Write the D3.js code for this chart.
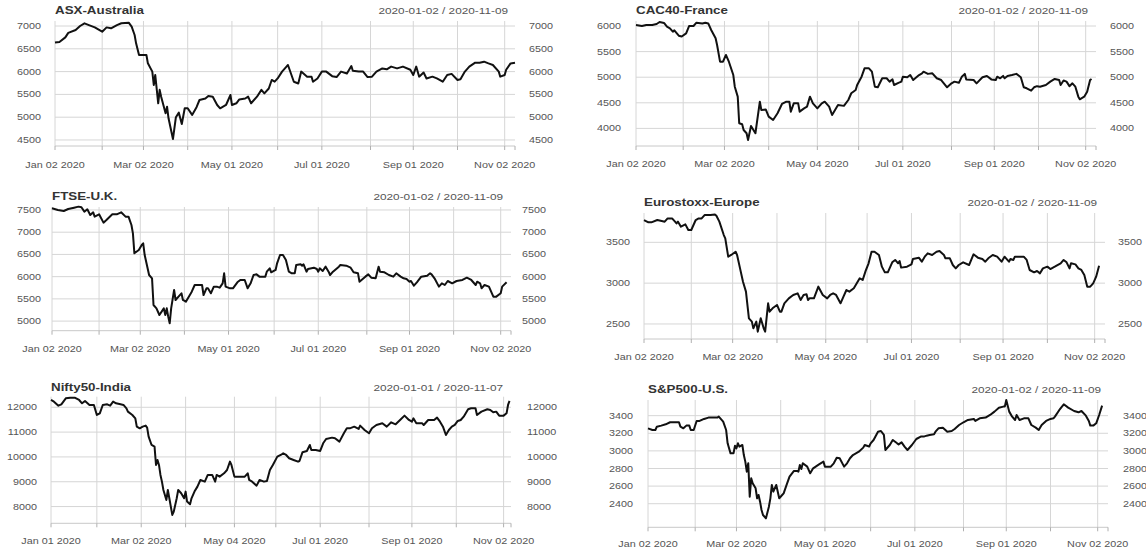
<!DOCTYPE html>
<html><head><meta charset="utf-8">
<script src="https://cdn.jsdelivr.net/npm/d3@7"></script>
<style>body{margin:0;background:#fff}svg{display:block}</style>
</head><body><svg id="c" width="1146" height="551"></svg>
<script>
// ---------------- DATA ----------------
const asx = [["01-02",6640],["01-05",6650],["01-09",6750],["01-11",6850],["01-16",6912],["01-19",7000],["01-22",7059],["01-25",7020],["01-29",6970],["02-03",6875],["02-06",6970],["02-09",6950],["02-13",7020],["02-16",7060],["02-21",7073],["02-23",6985],["02-25",6803],["02-26",6620],["02-28",6364],["03-04",6364],["03-05",6182],["03-08",6000],["03-09",5706],["03-10",5925],["03-12",5305],["03-13",5600],["03-14",5450],["03-17",5085],["03-18",5230],["03-19",4976],["03-22",4520],["03-24",5000],["03-26",5100],["03-28",4851],["03-30",5195],["04-01",5195],["04-04",5050],["04-07",5220],["04-09",5377],["04-13",5410],["04-15",5465],["04-18",5450],["04-21",5268],["04-23",5195],["04-27",5268],["04-30",5487],["05-01",5268],["05-04",5305],["05-06",5390],["05-10",5410],["05-12",5450],["05-14",5305],["05-18",5450],["05-21",5600],["05-23",5523],["05-26",5630],["05-28",5816],["05-30",5780],["06-01",5850],["06-04",6000],["06-07",6110],["06-08",6145],["06-12",5778],["06-15",5740],["06-17",6000],["06-21",5889],["06-24",5889],["06-25",5778],["06-28",5850],["07-01",6000],["07-04",6000],["07-08",5900],["07-11",5880],["07-14",6000],["07-18",5960],["07-21",6123],["07-22",6020],["07-26",6000],["07-29",6000],["08-01",5880],["08-04",5889],["08-07",6000],["08-11",6070],["08-14",6050],["08-17",6110],["08-21",6070],["08-25",6110],["08-30",6040],["09-01",5925],["09-03",6110],["09-05",5889],["09-08",5980],["09-10",5850],["09-14",5889],["09-17",5850],["09-21",5778],["09-24",5925],["09-27",5950],["10-01",5816],["10-03",5830],["10-06",6000],["10-09",6110],["10-13",6196],["10-16",6196],["10-19",6218],["10-22",6180],["10-25",6145],["10-29",6000],["10-30",5889],["11-02",5925],["11-03",6040],["11-06",6180],["11-09",6196]];

const cac = [["01-02",6020],["01-06",6000],["01-09",6020],["01-13",6020],["01-16",6040],["01-18",6078],["01-21",6060],["01-23",5987],["01-25",5955],["01-27",5889],["01-28",5915],["01-31",5811],["02-02",5795],["02-05",5857],["02-07",6000],["02-10",6000],["02-12",6065],["02-16",6050],["02-18",6065],["02-20",6050],["02-22",5922],["02-25",5760],["02-26",5629],["02-28",5303],["03-01",5303],["03-03",5434],["03-05",5303],["03-08",5043],["03-09",4815],["03-11",4620],["03-12",4100],["03-14",4080],["03-15",3969],["03-17",3905],["03-18",3774],["03-20",4047],["03-23",3905],["03-26",4522],["03-27",4360],["03-30",4370],["04-01",4229],["04-04",4164],["04-07",4295],["04-10",4477],["04-13",4522],["04-15",4522],["04-16",4327],["04-18",4490],["04-21",4490],["04-22",4327],["04-25",4392],["04-27",4425],["04-29",4620],["05-01",4490],["05-04",4392],["05-07",4490],["05-09",4522],["05-12",4425],["05-14",4262],["05-18",4457],["05-22",4440],["05-25",4555],["05-27",4686],["05-30",4750],["05-31",4848],["06-03",5010],["06-05",5174],["06-08",5174],["06-10",5108],["06-12",4815],["06-14",4805],["06-17",4979],["06-20",4979],["06-22",4913],["06-24",4957],["06-25",4848],["06-28",4890],["06-30",4913],["07-01",5010],["07-04",5000],["07-06",5043],["07-08",4945],["07-12",5043],["07-14",5075],["07-15",5108],["07-18",5065],["07-21",5075],["07-24",4979],["07-27",4945],["07-31",4803],["08-03",4880],["08-05",4913],["08-08",4890],["08-10",5010],["08-12",5065],["08-13",4957],["08-18",4945],["08-20",4880],["08-24",5000],["08-27",5025],["08-30",4957],["09-02",4945],["09-03",5010],["09-05",4979],["09-07",5025],["09-08",4979],["09-10",5025],["09-13",5043],["09-16",5065],["09-19",5000],["09-21",4803],["09-23",4783],["09-26",4737],["09-28",4803],["09-30",4825],["10-02",4815],["10-06",4848],["10-09",4913],["10-12",4966],["10-15",4945],["10-16",4848],["10-18",4935],["10-20",4913],["10-22",4825],["10-24",4880],["10-26",4815],["10-28",4620],["10-29",4568],["11-01",4620],["11-03",4717],["11-05",4945],["11-06",4966]];

const ftse = [["01-02",7537],["01-06",7500],["01-10",7477],["01-13",7522],["01-17",7552],["01-20",7575],["01-22",7560],["01-24",7462],["01-26",7515],["01-28",7387],["01-30",7447],["01-31",7350],["02-03",7402],["02-06",7215],["02-08",7275],["02-12",7402],["02-15",7402],["02-18",7447],["02-21",7350],["02-23",7350],["02-25",7162],["02-26",6975],["02-27",6525],["03-01",6600],["03-03",6712],["03-04",6750],["03-05",6487],["03-08",6037],["03-10",5962],["03-11",5362],["03-13",5287],["03-15",5137],["03-18",5287],["03-19",5137],["03-20",5287],["03-21",5100],["03-22",4950],["03-23",5287],["03-25",5700],["03-26",5475],["03-28",5550],["03-30",5625],["03-31",5475],["04-02",5437],["04-04",5550],["04-06",5662],["04-08",5812],["04-11",5812],["04-13",5812],["04-14",5587],["04-16",5737],["04-17",5737],["04-19",5625],["04-21",5775],["04-23",5775],["04-25",5752],["04-27",5850],["04-28",6075],["04-29",5775],["05-02",5737],["05-04",5737],["05-07",5872],["05-09",5925],["05-12",5925],["05-14",5737],["05-16",5850],["05-18",6037],["05-20",6052],["05-22",6000],["05-26",6000],["05-27",6112],["05-29",6187],["05-30",6097],["06-02",6150],["06-03",6300],["06-05",6487],["06-07",6487],["06-09",6375],["06-11",6112],["06-13",6075],["06-15",6075],["06-16",6262],["06-19",6277],["06-20",6247],["06-21",6277],["06-23",6112],["06-24",6172],["06-28",6202],["06-30",6172],["07-01",6112],["07-02",6187],["07-04",6127],["07-06",6225],["07-08",6112],["07-09",6037],["07-11",6112],["07-15",6225],["07-16",6262],["07-20",6247],["07-23",6202],["07-25",6097],["07-28",6075],["07-29",5887],["08-02",6000],["08-04",6052],["08-06",5977],["08-09",5962],["08-11",6225],["08-12",6112],["08-15",6097],["08-18",6037],["08-21",6000],["08-23",6075],["08-26",6000],["08-28",5962],["08-30",5947],["09-01",5887],["09-02",5902],["09-04",5797],["09-06",5872],["09-09",6000],["09-13",6022],["09-15",6075],["09-16",6052],["09-18",5962],["09-21",5775],["09-23",5850],["09-25",5812],["09-27",5902],["09-30",5850],["10-03",5902],["10-07",5925],["10-10",5977],["10-13",5925],["10-16",5812],["10-17",5887],["10-19",5850],["10-20",5737],["10-22",5812],["10-25",5775],["10-28",5550],["10-30",5550],["11-02",5625],["11-03",5775],["11-06",5872]];

const stoxx = [["01-02",3773],["01-05",3745],["01-07",3745],["01-11",3773],["01-14",3761],["01-16",3753],["01-18",3793],["01-21",3793],["01-23",3753],["01-24",3732],["01-25",3753],["01-27",3692],["01-30",3720],["02-01",3651],["02-03",3651],["02-06",3773],["02-08",3793],["02-10",3793],["02-12",3834],["02-16",3834],["02-19",3842],["02-20",3826],["02-22",3753],["02-25",3589],["02-26",3549],["02-28",3324],["03-01",3345],["03-04",3385],["03-05",3345],["03-07",3181],["03-09",3018],["03-11",2896],["03-13",2569],["03-15",2529],["03-16",2447],["03-18",2529],["03-19",2406],["03-21",2569],["03-23",2447],["03-24",2406],["03-26",2753],["03-27",2651],["03-29",2692],["04-01",2733],["04-03",2651],["04-04",2651],["04-06",2753],["04-09",2814],["04-12",2855],["04-15",2875],["04-17",2794],["04-19",2855],["04-21",2863],["04-22",2794],["04-23",2814],["04-26",2814],["04-29",2957],["05-02",2855],["05-05",2814],["05-07",2855],["05-09",2875],["05-11",2855],["05-14",2753],["05-16",2835],["05-18",2916],["05-20",2896],["05-23",2937],["05-25",2998],["05-27",3059],["05-29",3039],["05-31",3150],["06-02",3243],["06-04",3385],["06-06",3385],["06-09",3345],["06-11",3202],["06-13",3132],["06-15",3132],["06-18",3255],["06-20",3284],["06-22",3243],["06-23",3271],["06-24",3190],["06-28",3202],["07-01",3230],["07-02",3296],["07-06",3312],["07-08",3263],["07-10",3324],["07-12",3365],["07-15",3345],["07-18",3385],["07-20",3394],["07-23",3345],["07-24",3304],["07-27",3304],["07-29",3222],["07-31",3181],["08-02",3222],["08-05",3255],["08-09",3222],["08-12",3353],["08-15",3312],["08-18",3296],["08-20",3263],["08-22",3304],["08-25",3345],["08-28",3324],["08-31",3263],["09-02",3324],["09-05",3263],["09-06",3296],["09-08",3284],["09-09",3324],["09-11",3324],["09-15",3324],["09-17",3284],["09-19",3161],["09-22",3132],["09-24",3149],["09-26",3120],["09-28",3181],["10-01",3202],["10-03",3173],["10-06",3202],["10-10",3243],["10-12",3284],["10-14",3255],["10-16",3181],["10-17",3243],["10-20",3230],["10-22",3181],["10-24",3161],["10-26",3100],["10-28",2957],["10-30",2957],["11-01",2998],["11-03",3079],["11-05",3214]];

const nifty = [["01-01",12295],["01-03",12228],["01-06",12066],["01-08",12120],["01-11",12362],["01-14",12389],["01-17",12389],["01-20",12295],["01-22",12161],["01-24",12255],["01-27",12094],["01-30",12094],["01-31",11892],["02-01",11691],["02-03",11758],["02-05",12094],["02-08",12120],["02-10",12066],["02-12",12228],["02-14",12161],["02-17",12120],["02-19",12094],["02-21",11959],["02-22",11825],["02-25",11691],["02-27",11556],["02-28",11220],["03-01",11153],["03-03",11220],["03-05",11261],["03-06",11180],["03-07",10818],["03-09",10482],["03-11",10415],["03-12",9676],["03-13",9878],["03-14",9676],["03-15",9273],["03-16",9004],["03-17",8669],["03-19",8266],["03-20",8669],["03-21",8333],["03-23",7662],["03-24",7796],["03-26",8333],["03-27",8669],["03-29",8535],["03-31",8333],["04-01",8602],["04-02",8199],["04-04",8091],["04-05",8333],["04-07",8602],["04-09",8803],["04-11",9071],["04-14",9004],["04-16",9273],["04-19",9273],["04-21",9004],["04-22",9273],["04-24",9206],["04-27",9340],["04-29",9474],["05-01",9810],["05-02",9676],["05-04",9206],["05-08",9206],["05-11",9206],["05-13",9340],["05-14",9071],["05-16",9004],["05-19",8843],["05-21",9071],["05-24",9004],["05-26",9031],["05-28",9474],["05-30",9676],["06-02",10012],["06-05",10106],["06-06",10146],["06-08",10079],["06-10",9945],["06-13",9878],["06-16",9810],["06-17",9837],["06-19",10186],["06-22",10240],["06-24",10482],["06-25",10280],["06-28",10280],["07-01",10240],["07-03",10549],["07-05",10724],["07-09",10777],["07-11",10750],["07-14",10616],["07-17",10952],["07-19",11153],["07-21",11153],["07-24",11220],["07-27",11127],["07-28",11261],["07-31",11086],["08-03",10952],["08-05",11153],["08-08",11288],["08-12",11355],["08-15",11220],["08-18",11395],["08-21",11314],["08-24",11489],["08-27",11664],["08-30",11489],["09-01",11422],["09-02",11556],["09-04",11355],["09-08",11355],["09-09",11288],["09-12",11489],["09-16",11489],["09-18",11583],["09-20",11422],["09-22",11220],["09-24",10885],["09-26",11086],["09-28",11220],["09-30",11288],["10-02",11449],["10-04",11489],["10-06",11623],["10-09",11919],["10-11",11959],["10-14",11959],["10-15",11691],["10-18",11825],["10-22",11919],["10-24",11892],["10-26",11798],["10-28",11825],["10-30",11664],["11-02",11664],["11-04",11758],["11-05",12094],["11-06",12255]];

const spx = [["01-02",3256],["01-05",3237],["01-07",3237],["01-08",3275],["01-11",3287],["01-14",3302],["01-17",3325],["01-19",3325],["01-23",3325],["01-24",3275],["01-26",3256],["01-28",3287],["01-30",3287],["01-31",3237],["02-02",3237],["02-04",3340],["02-06",3340],["02-09",3363],["02-12",3378],["02-15",3378],["02-18",3378],["02-19",3389],["02-22",3332],["02-24",3237],["02-25",3086],["02-27",2972],["02-29",2972],["03-01",3059],["03-02",3029],["03-03",3086],["03-04",3048],["03-06",3067],["03-07",2953],["03-08",2878],["03-09",2764],["03-10",2859],["03-11",2480],["03-12",2688],["03-13",2632],["03-15",2575],["03-16",2461],["03-17",2499],["03-18",2423],["03-19",2329],["03-20",2272],["03-22",2234],["03-24",2366],["03-25",2461],["03-26",2613],["03-27",2537],["03-29",2613],["03-31",2461],["04-02",2499],["04-03",2518],["04-05",2613],["04-07",2707],["04-10",2772],["04-12",2772],["04-13",2764],["04-14",2840],["04-15",2794],["04-16",2859],["04-19",2821],["04-21",2745],["04-23",2802],["04-27",2847],["04-30",2878],["05-01",2821],["05-05",2821],["05-07",2859],["05-09",2923],["05-11",2916],["05-14",2821],["05-16",2859],["05-18",2916],["05-20",2953],["05-24",2991],["05-27",3037],["05-28",3067],["05-31",3050],["06-01",3086],["06-03",3124],["06-06",3218],["06-08",3226],["06-10",3181],["06-11",3010],["06-14",3067],["06-16",3124],["06-19",3086],["06-20",3074],["06-22",3097],["06-24",3048],["06-26",3010],["06-29",3067],["07-02",3135],["07-05",3162],["07-07",3162],["07-09",3173],["07-11",3181],["07-14",3188],["07-15",3218],["07-17",3256],["07-20",3264],["07-23",3218],["07-26",3226],["07-28",3249],["07-31",3294],["08-03",3325],["08-06",3351],["08-10",3363],["08-11",3340],["08-14",3370],["08-18",3378],["08-21",3408],["08-24",3446],["08-27",3491],["08-30",3503],["08-31",3503],["09-01",3578],["09-03",3446],["09-05",3389],["09-07",3351],["09-08",3408],["09-10",3351],["09-13",3370],["09-16",3370],["09-18",3294],["09-21",3264],["09-23",3237],["09-25",3294],["09-28",3340],["10-01",3363],["10-03",3370],["10-04",3389],["10-07",3465],["10-10",3529],["10-13",3491],["10-17",3453],["10-20",3438],["10-22",3453],["10-25",3400],["10-27",3340],["10-28",3287],["10-30",3287],["11-01",3313],["11-03",3408],["11-05",3514]];

const titles = ["ASX-Australia","CAC40-France","FTSE-U.K.","Eurostoxx-Europe","Nifty50-India","S&P500-U.S."];
const dateRanges = ["2020-01-02 / 2020-11-09","2020-01-02 / 2020-11-09","2020-01-02 / 2020-11-09","2020-01-02 / 2020-11-09","2020-01-01 / 2020-11-07","2020-01-02 / 2020-11-09"];
const series = [asx, cac, ftse, stoxx, nifty, spx];

const yTicks = [
  [4500,5000,5500,6000,6500,7000],
  [4000,4500,5000,5500,6000],
  [5000,5500,6000,6500,7000,7500],
  [2500,3000,3500],
  [8000,9000,10000,11000,12000],
  [2400,2600,2800,3000,3200,3400]
];
// first trading day of each month (axis ticks); every other one is labelled
const monthTicks = [
  ["01-02","02-03","03-02","04-01","05-01","06-01","07-01","08-03","09-01","10-01","11-02"],
  ["01-02","02-03","03-02","04-01","05-04","06-01","07-01","08-03","09-01","10-01","11-02"],
  ["01-02","02-03","03-02","04-01","05-01","06-01","07-01","08-03","09-01","10-01","11-02"],
  ["01-02","02-03","03-02","04-01","05-04","06-01","07-01","08-03","09-01","10-01","11-02"],
  ["01-01","02-01","03-02","04-01","05-04","06-01","07-01","08-03","09-01","10-01","11-02"],
  ["01-02","02-03","03-02","04-01","05-01","06-01","07-01","08-03","09-01","10-01","11-02"]
];
const axisSpan = [["01-02","11-09"],["01-02","11-09"],["01-02","11-09"],["01-02","11-09"],["01-01","11-07"],["01-02","11-09"]];

// ---------------- LAYOUT ----------------
const layout = [
  {l:55,  r:515,  t:21,    b:146,   yLo:4368, yHi:7110, tY:11,    rngR:508,  xlY:165,   lgap:14, rgap:14},
  {l:636, r:1096, t:21,    b:146,   yLo:3656, yHi:6098, tY:11,    rngR:1088, xlY:164,   lgap:15, rgap:14},
  {l:52,  r:511,  t:207,   b:330.7, yLo:4784, yHi:7567, tY:196.7, rngR:503,  xlY:349,   lgap:11, rgap:11},
  {l:644, r:1105, t:213,   b:339,   yLo:2316, yHi:3859, tY:203,   rngR:1097, xlY:357,   lgap:14, rgap:13},
  {l:51,  r:511,  t:396.7, b:523.3, yLo:7325, yHi:12427,tY:388,   rngR:503,  xlY:540.7, lgap:14, rgap:16},
  {l:648, r:1108, t:400,   b:527.3, yLo:2132, yHi:3578, tY:390,   rngR:1101, xlY:544,   lgap:15, rgap:15}
];
const SX = 1.27;           // horizontal stretch of the reference text
const FONT = "'Liberation Sans', Arial, Helvetica, sans-serif";
const GRID = "#d6d6d6";

const parse = s => d3.timeParse("%Y-%m-%d")("2020-" + s);
const fmt = d3.timeFormat("%b %d %Y");
const svg = d3.select("#c");

function txt(g, x, y, s, o) {
  return g.append("text")
    .attr("transform", `translate(${x},${y}) scale(${SX},1)`)
    .attr("text-anchor", o.anchor || "start")
    .attr("dominant-baseline", "central")
    .attr("font-family", FONT)
    .attr("font-size", o.size)
    .attr("font-weight", o.weight || "normal")
    .attr("fill", o.fill)
    .text(s);
}

series.forEach((data, i) => {
  const L = layout[i];
  const g = svg.append("g");
  const x = d3.scaleTime().domain(axisSpan[i].map(parse)).range([L.l, L.r]);
  const y = d3.scaleLinear().domain([L.yLo, L.yHi]).range([L.b, L.t]);
  const ticks = monthTicks[i].map(parse);

  // horizontal grid
  g.selectAll(".hg").data(yTicks[i]).join("line")
    .attr("x1", L.l).attr("x2", L.r)
    .attr("y1", d => y(d)).attr("y2", d => y(d))
    .attr("stroke", GRID).attr("stroke-width", 1);
  // vertical grid
  g.selectAll(".vg").data(ticks).join("line")
    .attr("x1", d => x(d)).attr("x2", d => x(d))
    .attr("y1", L.t).attr("y2", L.b)
    .attr("stroke", GRID).attr("stroke-width", 1);
  // x axis line + ticks
  g.append("line").attr("x1", L.l).attr("x2", L.r).attr("y1", L.b).attr("y2", L.b)
    .attr("stroke", "#c8c8c8").attr("stroke-width", 1);
  g.selectAll(".xt").data(ticks.concat([x.domain()[1]])).join("line")
    .attr("x1", d => x(d)).attr("x2", d => x(d))
    .attr("y1", L.b).attr("y2", L.b + 4)
    .attr("stroke", "#b0b0b0").attr("stroke-width", 1);
  // x labels (every second month)
  ticks.forEach((d, k) => {
    if (k % 2 === 0) txt(g, x(d), L.xlY, fmt(d), {anchor: "middle", size: 8.5, fill: "#555"});
  });
  // y labels both sides
  yTicks[i].forEach(v => {
    txt(g, L.l - L.lgap, y(v), String(v), {anchor: "end", size: 8.5, fill: "#555"});
    txt(g, L.r + L.rgap, y(v), String(v), {anchor: "start", size: 8.5, fill: "#555"});
  });
  // title and date range
  txt(g, L.l, L.tY, titles[i], {anchor: "start", size: 10.5, weight: "bold", fill: "#333"});
  txt(g, L.rngR, L.tY, dateRanges[i], {anchor: "end", size: 9.3, fill: "#555"});

  // series line
  const line = d3.line().x(d => x(parse(d[0]))).y(d => y(d[1]));
  g.append("path").datum(data).attr("d", line)
    .attr("fill", "none").attr("stroke", "#111").attr("stroke-width", 2)
    .attr("stroke-linejoin", "round");
});
</script>
</body></html>
